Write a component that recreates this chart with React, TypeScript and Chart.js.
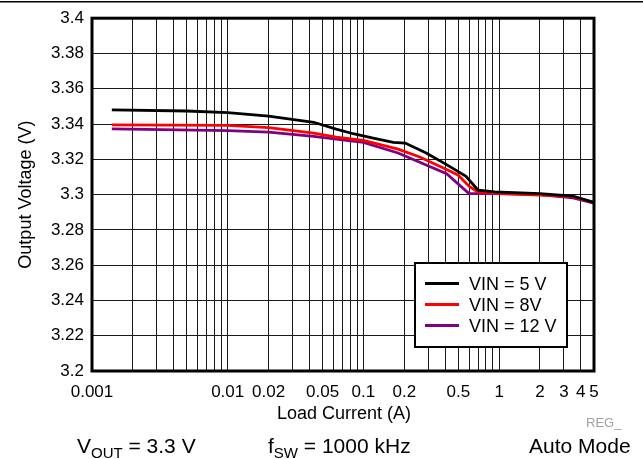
import React, { useEffect, useRef } from "react";
import { Chart, registerables } from "chart.js";

Chart.register(...registerables);

// ---- data ----
const vin5Current = [0.0014, 0.005, 0.01, 0.02, 0.043, 0.063, 0.084, 0.118, 0.166, 0.203, 0.29, 0.41, 0.57, 0.7, 0.93, 2, 3.5, 5];
const vin5Voltage = [3.348, 3.3474, 3.3465, 3.3445, 3.341, 3.3371, 3.3345, 3.332, 3.3296, 3.3292, 3.3236, 3.317, 3.3104, 3.3025, 3.3016, 3.3005, 3.2992, 3.2955];

const vin8Current = [0.0014, 0.01, 0.02, 0.043, 0.063, 0.1, 0.18, 0.26, 0.41, 0.5, 0.6, 0.7, 0.96, 2, 3.5, 5];
const vin8Voltage = [3.3395, 3.3392, 3.338, 3.3348, 3.3326, 3.3307, 3.3258, 3.3213, 3.3142, 3.311, 3.3048, 3.3014, 3.3007, 3.2997, 3.2988, 3.2955];

const vin12Current = [0.0014, 0.01, 0.02, 0.043, 0.063, 0.1, 0.18, 0.41, 0.6, 0.96, 2, 3.5, 5];
const vin12Voltage = [3.3373, 3.3363, 3.3354, 3.333, 3.3315, 3.3296, 3.3236, 3.3119, 3.3006, 3.3006, 3.3, 3.2982, 3.2952];

const seriesLabels = ["VIN = 5 V", "VIN = 8V", "VIN = 12 V"];
const seriesColors = ["#000000", "#ff0000", "#800080"];

const xGridValues = [
  0.001, 0.002, 0.003, 0.004, 0.005, 0.006, 0.007, 0.008, 0.009,
  0.01, 0.02, 0.03, 0.04, 0.05, 0.06, 0.07, 0.08, 0.09,
  0.1, 0.2, 0.3, 0.4, 0.5, 0.6, 0.7, 0.8, 0.9,
  1, 2, 3, 4, 5,
];
const xTickLabels = ["0.001", "0.01", "0.02", "0.05", "0.1", "0.2", "0.5", "1", "2", "3", "4", "5"];
const yMin = 3.2;
const yMax = 3.4;
const yStep = 0.01;

const xTitle = "Load Current (A)";
const yTitle = "Output Voltage (V)";
const regText = "REG_";

const FONT = "'Liberation Sans', Arial, Helvetica, sans-serif";

const toPoints = (xs: number[], ys: number[]) => xs.map((x, i) => ({ x, y: ys[i] }));

const decorPlugin = {
  id: "decor",
  afterDatasetsDraw(chart: any) {
    const ctx = chart.ctx as CanvasRenderingContext2D;
    const { left, top, right, bottom } = chart.chartArea;
    ctx.save();
    // plot frame
    ctx.strokeStyle = "#000";
    ctx.lineWidth = 3;
    ctx.strokeRect(left, top, right - left, bottom - top);

    // top rule
    ctx.fillStyle = "#000";
    ctx.fillRect(0, 1, chart.width, 1.5);

    // legend box
    const lx = 415, ly = 263, lw = 152, lh = 84;
    ctx.fillStyle = "#fff";
    ctx.fillRect(lx, ly, lw, lh);
    ctx.lineWidth = 2;
    ctx.strokeStyle = "#000";
    ctx.strokeRect(lx, ly, lw, lh);
    ctx.font = `18px ${FONT}`;
    ctx.textAlign = "left";
    ctx.textBaseline = "alphabetic";
    const rows = [283.5, 304.5, 325.5];
    chart.data.datasets.forEach((ds: any, i: number) => {
      ctx.strokeStyle = ds.borderColor;
      ctx.lineWidth = 3;
      ctx.beginPath();
      ctx.moveTo(425, rows[i]);
      ctx.lineTo(459, rows[i]);
      ctx.stroke();
      ctx.fillStyle = "#000";
      ctx.fillText(ds.label, 469, rows[i] + 6.5);
    });

    // axis titles
    ctx.fillStyle = "#000";
    ctx.font = `18px ${FONT}`;
    ctx.textAlign = "center";
    ctx.textBaseline = "alphabetic";
    ctx.fillText(xTitle, (left + right) / 2 + 1, 419);
    ctx.save();
    ctx.translate(31, (top + bottom) / 2);
    ctx.rotate(-Math.PI / 2);
    ctx.fillText(yTitle, 0, 0);
    ctx.restore();

    // REG_
    ctx.fillStyle = "#a0a0a0";
    ctx.font = `13px ${FONT}`;
    ctx.textAlign = "left";
    ctx.fillText(regText, 586, 427);

    // bottom conditions
    ctx.fillStyle = "#000";
    const big = `21px ${FONT}`;
    const small = `15px ${FONT}`;
    const drawSeq = (x: number, parts: [string, boolean][]) => {
      let cx = x;
      parts.forEach(([t, sub]) => {
        ctx.font = sub ? small : big;
        ctx.fillText(t, cx, sub ? 458 : 453);
        cx += ctx.measureText(t).width;
      });
    };
    ctx.textAlign = "left";
    drawSeq(77, [["V", false], ["OUT", true], [" = 3.3 V", false]]);
    drawSeq(268, [["f", false], ["SW", true], [" = 1000 kHz", false]]);
    drawSeq(529, [["Auto Mode", false]]);
    ctx.restore();
  },
};

export default function App() {
  const canvasRef = useRef<HTMLCanvasElement | null>(null);

  useEffect(() => {
    if (!canvasRef.current) return;
    const datasets = [
      { label: seriesLabels[0], data: toPoints(vin5Current, vin5Voltage), borderColor: seriesColors[0] },
      { label: seriesLabels[1], data: toPoints(vin8Current, vin8Voltage), borderColor: seriesColors[1] },
      { label: seriesLabels[2], data: toPoints(vin12Current, vin12Voltage), borderColor: seriesColors[2] },
    ].map((d) => ({
      ...d,
      backgroundColor: d.borderColor,
      borderWidth: 2.8,
      pointRadius: 0,
      tension: 0,
      fill: false,
    }));

    const chart = new Chart(canvasRef.current, {
      type: "line",
      data: { datasets },
      options: {
        responsive: false,
        animation: false,
        devicePixelRatio: 1,
        layout: { padding: { top: 16, right: 49, bottom: 58, left: 0 } },
        plugins: { legend: { display: false }, tooltip: { enabled: false } },
        scales: {
          x: {
            type: "logarithmic",
            min: 0.001,
            max: 5,
            afterBuildTicks: (scale: any) => {
              scale.ticks = xGridValues.map((v) => ({ value: v }));
            },
            afterFit: (scale: any) => {
              scale.height = 30;
            },
            grid: { color: "#1a1a1a", lineWidth: 1, drawTicks: false },
            border: { display: false },
            ticks: {
              autoSkip: false,
              maxRotation: 0,
              minRotation: 0,
              padding: 11,
              color: "#000",
              font: { family: FONT, size: 17 },
              callback: (value: any) => {
                const v = Number(value);
                const lbl = xTickLabels.find((t) => Math.abs(Number(t) - v) < v * 1e-6);
                return lbl ?? "";
              },
            },
          },
          y: {
            type: "linear",
            min: yMin,
            max: yMax,
            afterFit: (scale: any) => {
              scale.width = 92;
            },
            grid: { color: "#1a1a1a", lineWidth: 1, drawTicks: false },
            border: { display: false },
            ticks: {
              stepSize: yStep,
              padding: 8,
              color: "#000",
              font: { family: FONT, size: 17 },
              callback: (value: any) => {
                const n = Math.round(Number(value) * 100);
                if (n % 2 !== 0) return "";
                return String(n / 100);
              },
            },
          },
        },
      },
      plugins: [decorPlugin],
    } as any);

    return () => chart.destroy();
  }, []);

  return (
    <div style={{ position: "fixed", left: 0, top: 0, width: 643, height: 459, background: "#fff" }}>
      <canvas ref={canvasRef} width={643} height={459} style={{ display: "block", width: 643, height: 459 }} />
    </div>
  );
}
